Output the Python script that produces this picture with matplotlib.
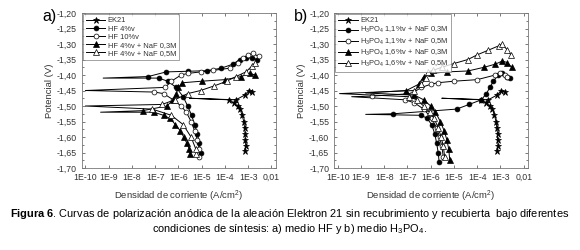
import numpy as np
import matplotlib.pyplot as plt
from matplotlib.ticker import FixedLocator, FixedFormatter, LogLocator, NullFormatter, MultipleLocator

plt.rcParams['font.family'] = ['Liberation Sans', 'DejaVu Sans']
plt.rcParams['mathtext.fontset'] = 'custom'
plt.rcParams['mathtext.rm'] = 'Liberation Sans'
plt.rcParams['mathtext.bf'] = 'Liberation Sans:bold'
plt.rcParams['mathtext.it'] = 'Liberation Sans:italic'

# EK21 (same in both panels): cathodic -> Ecorr spike -> anodic
ek_E = [-1.645, -1.63, -1.61, -1.59, -1.57, -1.55, -1.53, -1.51, -1.50, -1.49, -1.48, -1.475,
        -1.48, -1.465, -1.45, -1.455]
ek_i = [7.0e-4, 8.0e-4, 7.5e-4, 7.5e-4, 7.0e-4, 6.5e-4, 5.5e-4, 4.5e-4, 3.5e-4, 2.5e-4, 1.5e-4, 3e-6,
        3e-4, 7e-4, 1.1e-3, 1.5e-3]

# panel a) HF
hf4_E = [-1.65, -1.62, -1.59, -1.56, -1.53, -1.50, -1.47, -1.44, -1.42, -1.41, -1.41,
         -1.405, -1.39, -1.388, -1.386, -1.378, -1.365, -1.35, -1.345, -1.345, -1.35]
hf4_i = [9e-6, 8e-6, 6.6e-6, 5e-6, 3.7e-6, 2.5e-6, 1.6e-6, 8e-7, 3.5e-7, 1.4e-7, 5.8e-10,
         5e-8, 3e-7, 2.5e-6, 1.7e-5, 7e-5, 2.2e-4, 4.3e-4, 8e-4, 1.5e-3, 2.4e-3]

hf10_E = [-1.665, -1.64, -1.61, -1.58, -1.55, -1.52, -1.50, -1.48, -1.46, -1.455, -1.45,
          -1.44, -1.42, -1.40, -1.395, -1.39, -1.385, -1.378, -1.36, -1.345, -1.335, -1.33, -1.34]
hf10_i = [8e-6, 7.9e-6, 6.6e-6, 5e-6, 3.5e-6, 2.2e-6, 1.3e-6, 6e-7, 2.3e-7, 9.2e-8, 1e-10,
          2.7e-7, 5e-7, 1.3e-6, 2.5e-6, 9e-6, 3.2e-5, 1.6e-4, 3.6e-4, 6e-4, 1e-3, 1.6e-3, 2.8e-3]

hf4naf3_E = [-1.655, -1.64, -1.62, -1.60, -1.58, -1.56, -1.54, -1.53, -1.52, -1.52,
             -1.515, -1.50, -1.48, -1.46, -1.44, -1.425, -1.42, -1.415, -1.405, -1.395, -1.40]
hf4naf3_i = [3.2e-6, 3e-6, 2.3e-6, 1.7e-6, 1.2e-6, 7.5e-7, 4.3e-7, 2.3e-7, 8.7e-8, 4.5e-10,
             2.9e-8, 3.2e-7, 6e-7, 8.2e-7, 1e-6, 1.5e-6, 1e-5, 1e-4, 5e-4, 1.2e-3, 2e-3]

hf4naf5_E = [-1.655, -1.64, -1.60, -1.56, -1.53, -1.51, -1.50,
             -1.495, -1.48, -1.46, -1.45, -1.435, -1.42, -1.405, -1.39, -1.37, -1.36]
hf4naf5_i = [6e-6, 5.7e-6, 3.5e-6, 1.6e-6, 5e-7, 7.5e-8, 1e-10,
             2e-7, 7e-7, 2.5e-6, 9e-6, 3.5e-5, 1.2e-4, 3e-4, 8e-4, 1.5e-3, 2e-3]

# panel b) H3PO4
p11naf3_E = [-1.68, -1.65, -1.62, -1.59, -1.56, -1.54, -1.53, -1.527,
             -1.525, -1.51, -1.495, -1.48, -1.46, -1.44, -1.42, -1.40, -1.395, -1.405, -1.41]
p11naf3_i = [2.3e-6, 2.1e-6, 1.8e-6, 1.5e-6, 1.1e-6, 7e-7, 4e-7, 1.6e-9,
             2.5e-8, 1.3e-5, 4.5e-5, 1.5e-4, 2.5e-4, 3.5e-4, 5e-4, 8e-4, 1.2e-3, 2e-3, 2.5e-3]

p11naf5_E = [-1.665, -1.63, -1.60, -1.57, -1.54, -1.51, -1.49, -1.48, -1.47,
             -1.468, -1.46, -1.44, -1.43, -1.425, -1.42, -1.415, -1.40, -1.395, -1.40, -1.405]
p11naf5_i = [3.5e-6, 3e-6, 2.4e-6, 1.8e-6, 1.1e-6, 5e-7, 2e-7, 8e-8, 4e-10,
             3e-9, 1.5e-7, 4e-7, 1e-6, 2e-6, 1e-5, 1e-4, 6e-4, 1e-3, 1.6e-3, 2e-3]

p16naf3_E = [-1.675, -1.64, -1.61, -1.58, -1.55, -1.52, -1.50, -1.48, -1.465, -1.458,
             -1.45, -1.43, -1.405, -1.395, -1.39, -1.387, -1.375, -1.365, -1.355, -1.36, -1.375]
p16naf3_i = [6.6e-6, 6e-6, 5e-6, 3.8e-6, 2.6e-6, 1.6e-6, 1e-6, 5e-7, 2e-7, 1.6e-9,
             9e-8, 3e-7, 5e-7, 1e-6, 5e-6, 4e-5, 2e-4, 6e-4, 1.2e-3, 2e-3, 3e-3]

p16naf5_E = [-1.665, -1.63, -1.60, -1.57, -1.54, -1.52, -1.50, -1.48, -1.47, -1.46,
             -1.45, -1.43, -1.41, -1.39, -1.385, -1.375, -1.363, -1.35, -1.335, -1.32, -1.305,
             -1.30, -1.32, -1.335]
p16naf5_i = [4e-6, 3.5e-6, 2.8e-6, 2.1e-6, 1.4e-6, 9e-7, 5e-7, 2.5e-7, 1.2e-7, 1.2e-10,
             2e-7, 4e-7, 6e-7, 8e-7, 1.3e-6, 3e-6, 1e-5, 4e-5, 1e-4, 3e-4, 9e-4,
             1.2e-3, 2e-3, 2.8e-3]

labels_a = ['EK21', 'HF 4%v', 'HF 10%v', 'HF 4%v + NaF 0,3M', 'HF 4%v + NaF 0,5M']
labels_b = ['EK21', r'H$_3$PO$_4$ 1,1%v + NaF 0,3M', r'H$_3$PO$_4$ 1,1%v + NaF 0,5M',
            r'H$_3$PO$_4$ 1,6%v + NaF 0,3M', r'H$_3$PO$_4$ 1,6%v + NaF 0,5M']
xtick_vals = [1e-10, 1e-9, 1e-8, 1e-7, 1e-6, 1e-5, 1e-4, 1e-3, 1e-2]
xtick_text = ['1E-10', '1E-9', '1E-8', '1E-7', '1E-6', '1E-5', '1E-4', '1E-3', '0,01']

styles = [dict(marker='*', mfc='black', ms=4.5),
          dict(marker='o', mfc='black', ms=3.5),
          dict(marker='o', mfc='white', ms=3.5),
          dict(marker='^', mfc='black', ms=3.8),
          dict(marker='^', mfc='white', ms=3.8)]

fig = plt.figure(figsize=(5.8, 2.5), dpi=100)
ax1 = fig.add_axes([0.141, 0.328, 0.334, 0.62])
ax2 = fig.add_axes([0.576, 0.328, 0.334, 0.62])

def draw(ax, curves, labels, tag):
    for (E, cur), lab, st in zip(curves, labels, styles):
        k = int(np.argmin(cur))
        every = [j for j in range(len(cur)) if j != k]
        ax.plot(cur, E, color='black', lw=0.7, mec='black', mew=0.5,
                markevery=every, label=lab, **st)
    ax.set_xscale('log')
    ax.set_xlim(7e-11, 1.5e-2)
    ax.set_ylim(-1.70, -1.20)
    ax.xaxis.set_major_locator(FixedLocator(xtick_vals))
    ax.xaxis.set_major_formatter(FixedFormatter(xtick_text))
    ax.xaxis.set_minor_locator(LogLocator(base=10, subs=np.arange(2, 10)))
    ax.xaxis.set_minor_formatter(NullFormatter())
    ax.yaxis.set_major_locator(MultipleLocator(0.05))
    ax.yaxis.set_minor_locator(MultipleLocator(0.025))
    ax.yaxis.set_major_formatter(plt.FuncFormatter(lambda v, p: ('%.2f' % v).replace('.', ',')))
    ax.tick_params(which='both', direction='in', top=True, right=True, labelsize=6.3,
                   colors='#444444', labelcolor='#333333', width=0.5)
    ax.tick_params(which='major', length=2.5)
    ax.tick_params(which='minor', length=1.3)
    for s in ax.spines.values():
        s.set_color('#777777')
        s.set_linewidth(0.6)
    ax.set_xlabel('Densidad de corriente (A/cm$^2$)', fontsize=6.8, color='#333333', labelpad=5)
    ax.set_ylabel('Potencial (V)', fontsize=6.8, color='#333333', labelpad=2)
    leg = ax.legend(loc='upper left', fontsize=5.4, frameon=True, fancybox=False,
                    handlelength=2.6, handletextpad=0.3, borderpad=0.4, labelspacing=0.12,
                    borderaxespad=0.15)
    leg.get_frame().set_edgecolor('#777777')
    leg.get_frame().set_linewidth(0.6)
    for t in leg.get_texts():
        t.set_color('#333333')
    ax.text(-0.205, 0.975, tag, transform=ax.transAxes, fontsize=11.5, ha='left', va='center')

draw(ax1, [(ek_E, ek_i), (hf4_E, hf4_i), (hf10_E, hf10_i), (hf4naf3_E, hf4naf3_i),
           (hf4naf5_E, hf4naf5_i)], labels_a, 'a)')
draw(ax2, [(ek_E, ek_i), (p11naf3_E, p11naf3_i), (p11naf5_E, p11naf5_i),
           (p16naf3_E, p16naf3_i), (p16naf5_E, p16naf5_i)], labels_b, 'b)')

fig.text(0.5, 0.145, r'$\bf{Figura\ 6}$. Curvas de polarización anódica de la aleación Elektron 21 '
         'sin recubrimiento y recubierta  bajo diferentes', ha='center', va='center', fontsize=7.9)
fig.text(0.5, 0.085, r'condiciones de síntesis: a) medio HF y b) medio H$_3$PO$_4$.',
         ha='center', va='center', fontsize=7.9)

fig.savefig('out.png', dpi=100)
